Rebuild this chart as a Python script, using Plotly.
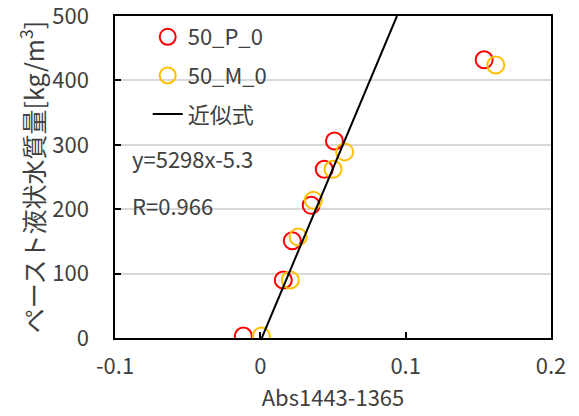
import plotly.graph_objects as go

# Data
p_x = [-0.0117, 0.0158, 0.0220, 0.0350, 0.0440, 0.0510, 0.1540]
p_y = [3, 90, 151, 206, 262, 306, 432]
m_x = [0.0007, 0.0206, 0.0260, 0.0365, 0.0500, 0.0580, 0.1620]
m_y = [3, 90, 157, 214, 262, 289, 424]
fit_x = [0.0010, 0.0765, 0.0940]
fit_y = [0, 405, 500]

x_ticks = [-0.1, 0, 0.1, 0.2]
x_tick_text = ["-0.1", "0", "0.1", "0.2"]
y_ticks = [0, 100, 200, 300, 400, 500]
y_tick_text = ["0", "100", "200", "300", "400", "500"]

FONT = "Noto Sans CJK JP"
TXT = "#404040"
PAD = "\u00a0" * 4

fig = go.Figure()
fig.add_trace(go.Scatter(
    x=p_x, y=p_y, mode="markers", name="50_P_0", legendgroup="a",
    marker=dict(symbol="circle-open", size=17, color="#FF0000", line=dict(width=2, color="#FF0000")),
))
fig.add_trace(go.Scatter(
    x=m_x, y=m_y, mode="markers", name="50_M_0", legendgroup="b",
    marker=dict(symbol="circle-open", size=17, color="#FFC000", line=dict(width=2, color="#FFC000")),
))
fig.add_trace(go.Scatter(
    x=fit_x, y=fit_y, mode="lines", name="近似式", legendgroup="c",
    line=dict(color="black", width=2),
))

fig.add_annotation(x=0, y=0.56, xref="paper", yref="paper", xanchor="left", yanchor="middle",
                   text="y=5298x-5.3", showarrow=False, xshift=15,
                   font=dict(family=FONT, size=22, color=TXT))
fig.add_annotation(x=0, y=0.413, xref="paper", yref="paper", xanchor="left", yanchor="middle",
                   text="R=0.966", showarrow=False, xshift=15,
                   font=dict(family=FONT, size=22, color=TXT))

fig.update_layout(
    width=579, height=416,
    margin=dict(l=115, r=28, t=16, b=78, autoexpand=False),
    paper_bgcolor="white", plot_bgcolor="white",
    font=dict(family=FONT, size=22, color=TXT),
    showlegend=True,
    legend=dict(x=0.075, y=1.0, xanchor="left", yanchor="top",
                bgcolor="rgba(0,0,0,0)", traceorder="grouped", tracegroupgap=7,
                font=dict(family=FONT, size=22, color=TXT)),
    xaxis=dict(
        range=[-0.1, 0.2], tickvals=x_ticks, ticktext=x_tick_text,
        showgrid=False, zeroline=False, automargin=False,
        showline=True, linecolor="black", linewidth=2, mirror=True,
        ticks="inside", ticklen=6, tickcolor="black", tickwidth=2,
        ticklabelstandoff=8, ticklabeloverflow="allow",
        title=dict(text="Abs1443-1365", font=dict(family=FONT, size=22, color=TXT), standoff=8),
        tickfont=dict(family=FONT, size=22, color=TXT),
    ),
    yaxis=dict(
        range=[0, 500], tickvals=y_ticks, ticktext=[t + PAD for t in y_tick_text],
        showgrid=True, gridcolor="#D9D9D9", gridwidth=2, zeroline=False, automargin=False,
        showline=True, linecolor="black", linewidth=2, mirror=True,
        ticks="inside", ticklen=6, tickcolor="black", tickwidth=2,
        ticklabeloverflow="allow",
        title=dict(text="ペースト液状水質量[kg/m<sup>3</sup>]", font=dict(family=FONT, size=25, color=TXT), standoff=1),
        tickfont=dict(family=FONT, size=22, color=TXT),
    ),
)

fig.write_html("out.html")
